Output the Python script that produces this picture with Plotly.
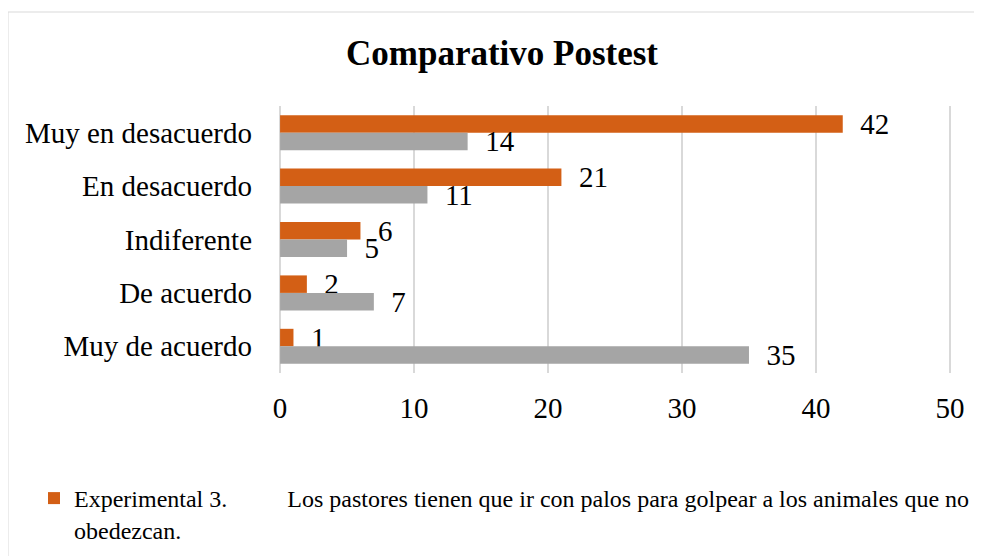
import plotly.graph_objects as go

categories = ["Muy en desacuerdo", "En desacuerdo", "Indiferente", "De acuerdo", "Muy de acuerdo"]
experimental = [42, 21, 6, 2, 1]
control = [14, 11, 5, 7, 35]
x_ticks = [0, 10, 20, 30, 40, 50]
legend_name = ("Experimental 3." + "&nbsp;" * 10 +
               "Los pastores tienen que ir con palos para golpear a los animales que no<br>obedezcan.")
title_text = "<b>Comparativo Postest</b>"

FONT = "Liberation Serif, Times New Roman, serif"
ORANGE = "#D35F15"
GRAY = "#A5A5A5"

# page body has an 8px margin; target page-pixel positions are compensated
OFF = 8
W, H = 982, 556
PL, PR, PT, PB = 279, 951, 106, 373  # plot area in page pixels
L, T = PL - OFF, PT - OFF
R = W - (PR - OFF)
B = H - (PB - OFF)
pw, ph = PR - PL, PB - PT

def px_x(p):
    return (p - PL) / pw

def px_y(p):
    return (PB - p) / ph

fig = go.Figure()
fig.add_trace(go.Bar(
    y=categories, x=experimental, orientation="h", name=legend_name,
    marker=dict(color=ORANGE, line=dict(width=0)),
    text=experimental, texttemplate="&nbsp;&nbsp;%{x}", textposition="outside",
    textfont=dict(family=FONT, size=29, color="#000000"),
    constraintext="none", cliponaxis=False,
))
fig.add_trace(go.Bar(
    y=categories, x=control, orientation="h", name="Control", showlegend=False,
    marker=dict(color=GRAY, line=dict(width=0)),
    text=control, texttemplate="&nbsp;&nbsp;%{x}", textposition="outside",
    textfont=dict(family=FONT, size=29, color="#000000"),
    constraintext="none", cliponaxis=False,
))

fig.update_layout(
    width=W, height=H,
    margin=dict(l=L, r=R, t=T, b=B, autoexpand=False),
    paper_bgcolor="white", plot_bgcolor="white",
    barmode="group", bargap=0.345, bargroupgap=0,
    title=dict(text=title_text, font=dict(family=FONT, size=35, color="#000000"),
               x=(502 - OFF) / W, xref="container", xanchor="center",
               y=1 - (53 - OFF) / H, yref="container", yanchor="middle"),
    font=dict(family=FONT, color="#000000"),
    showlegend=True,
    legend=dict(x=px_x(34), xanchor="left", y=px_y(476), yanchor="top",
                font=dict(family=FONT, size=24, color="#000000"),
                valign="top", bgcolor="rgba(0,0,0,0)"),
    xaxis=dict(range=[-0.08, 50.08], tickvals=x_ticks, showgrid=True, gridcolor="#D9D9D9",
               gridwidth=1.5, zeroline=False, showline=False,
               tickfont=dict(family=FONT, size=29, color="#000000"),
               ticks="", ticklabelstandoff=15),
    yaxis=dict(autorange="reversed", showgrid=False, zeroline=False, showline=False,
               tickfont=dict(family=FONT, size=29, color="#000000"),
               ticks="", ticklabelstandoff=26),
    shapes=[dict(type="rect", xref="paper", yref="paper",
                 x0=px_x(8), x1=px_x(1000), y0=px_y(600), y1=px_y(12),
                 line=dict(color="#D9D9D9", width=1), fillcolor="rgba(0,0,0,0)",
                 layer="below")],
)

fig.write_html("out.html")
